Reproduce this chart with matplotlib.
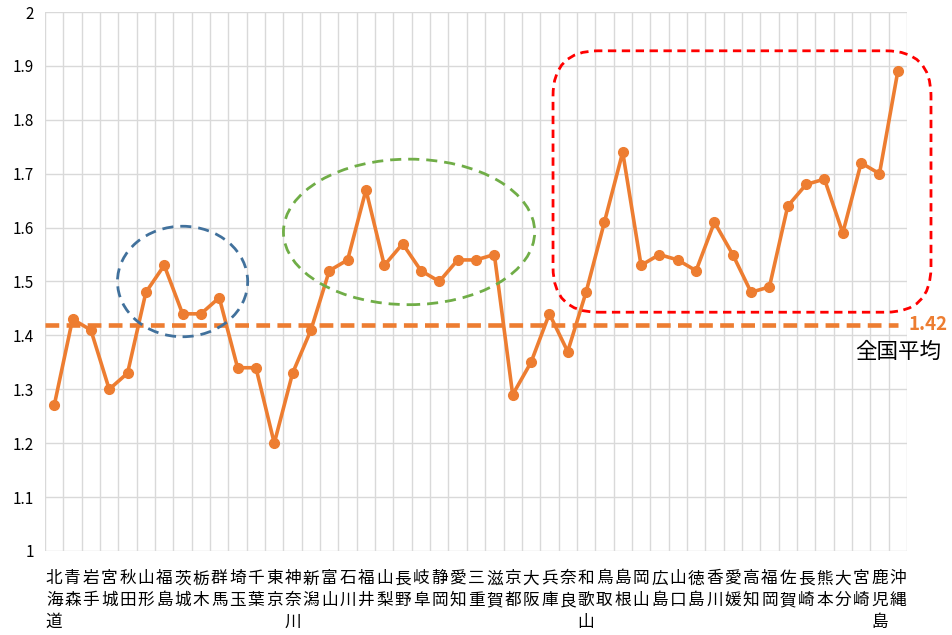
import matplotlib.pyplot as plt
from matplotlib.patches import Ellipse, FancyBboxPatch
from matplotlib.ticker import FixedLocator

plt.rcParams['font.family'] = ['Noto Sans CJK JP', 'DejaVu Sans']

prefectures = ['北海道', '青森', '岩手', '宮城', '秋田', '山形', '福島', '茨城', '栃木', '群馬',
               '埼玉', '千葉', '東京', '神奈川', '新潟', '富山', '石川', '福井', '山梨', '長野',
               '岐阜', '静岡', '愛知', '三重', '滋賀', '京都', '大阪', '兵庫', '奈良', '和歌山',
               '鳥取', '島根', '岡山', '広島', '山口', '徳島', '香川', '愛媛', '高知', '福岡',
               '佐賀', '長崎', '熊本', '大分', '宮崎', '鹿児島', '沖縄']
values = [1.27, 1.43, 1.41, 1.30, 1.33, 1.48, 1.53, 1.44, 1.44, 1.47,
          1.34, 1.34, 1.20, 1.33, 1.41, 1.52, 1.54, 1.67, 1.53, 1.57,
          1.52, 1.50, 1.54, 1.54, 1.55, 1.29, 1.35, 1.44, 1.37, 1.48,
          1.61, 1.74, 1.53, 1.55, 1.54, 1.52, 1.61, 1.55, 1.48, 1.49,
          1.64, 1.68, 1.69, 1.59, 1.72, 1.70, 1.89]
yticks = [1, 1.1, 1.2, 1.3, 1.4, 1.5, 1.6, 1.7, 1.8, 1.9, 2]
national_avg = 1.42

orange = '#ED7D31'
grid_col = '#D9D9D9'

fig = plt.figure(figsize=(9.52, 6.35), dpi=100)
ax = fig.add_axes([0.0473, 0.1323, 0.9054, 0.8488])

x = list(range(len(prefectures)))
ax.plot(x, values, color=orange, lw=2.6, marker='o', ms=7, zorder=4)

# national average line + labels
ax.plot([-0.5, len(x) - 1], [national_avg, national_avg], color=orange, lw=3.3,
        dashes=(3, 1.6), zorder=3)
ax.annotate(f'{national_avg:.2f}', xy=(len(x) - 1, national_avg), xytext=(8, 0),
            textcoords='offset points', ha='left', va='center', color=orange,
            fontsize=13.5, fontweight='bold', annotation_clip=False)
ax.annotate('全国平均', xy=(len(x) - 1, national_avg), xytext=(0, -20),
            textcoords='offset points', ha='center', va='center', color='black',
            fontsize=15.5, annotation_clip=False)

ax.set_xlim(-0.5, len(x) - 0.5)
ax.set_ylim(1, 2)
ax.set_yticks(yticks)
ax.set_yticklabels([f'{v:g}' for v in yticks])
ax.set_xticks(x)
ax.set_xticklabels(['\n'.join(p) for p in prefectures], va='top', linespacing=1.35)
ax.xaxis.set_minor_locator(FixedLocator([i - 0.5 for i in range(len(x) + 1)]))
ax.tick_params(axis='x', which='both', length=0, labelsize=12, pad=14)
ax.tick_params(axis='y', length=0, labelsize=11, pad=8)
ax.grid(axis='y', which='major', color=grid_col, lw=1)
ax.grid(axis='x', which='minor', color=grid_col, lw=1)
for s in ax.spines.values():
    s.set_visible(False)
ax.set_axisbelow(True)

# highlight shapes
ax.add_patch(Ellipse((7.0, 1.5), 7.1, 0.205, fill=False, ec='#41719C', lw=2,
                     ls=(0, (4, 2.5)), zorder=5))
ax.add_patch(Ellipse((19.35, 1.592), 13.7, 0.27, fill=False, ec='#70AD47', lw=2,
                     ls=(0, (4, 2.5)), zorder=5))
px_x = 1 / 18.34
px_y = 1 / 539
ax.add_patch(FancyBboxPatch((27.2, 1.443), 47.81 - 27.2, 1.928 - 1.443,
                            boxstyle=f'round,pad=0,rounding_size={45 * px_x}',
                            mutation_aspect=px_y / px_x, fill=False, ec='#FF0000',
                            lw=2, ls=(0, (3, 2)), clip_on=False, zorder=5))

fig.savefig('out.png', dpi=100)
